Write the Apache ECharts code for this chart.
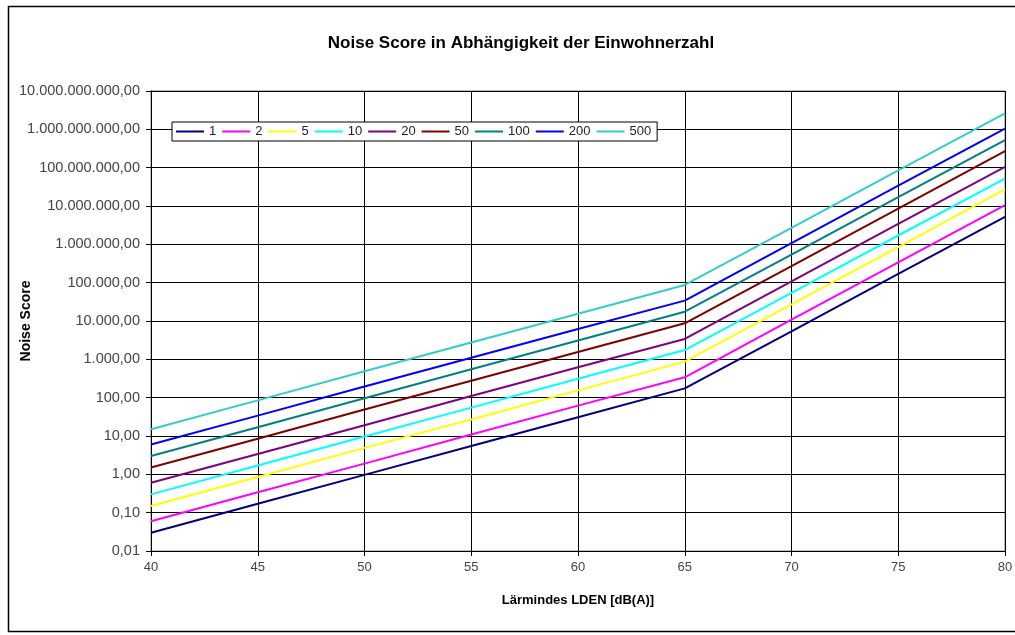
<!DOCTYPE html>
<html>
<head>
<meta charset="utf-8">
<script src="https://cdn.jsdelivr.net/npm/echarts@6/dist/echarts.min.js"></script>
<style>
  html, body { margin: 0; padding: 0; background: #fff; }
  #chart { width: 1015px; height: 635px; }
</style>
</head>
<body>
<div id="chart"></div>
<script>
// Lärmindex LDEN [dB(A)]
const categories = [40, 45, 50, 55, 60, 65, 70, 75, 80]
const seriesNames = ['1', '2', '5', '10', '20', '50', '100', '200', '500']
const s1 = [0.03, 0.17, 0.97, 5.5, 31, 175, 5400, 170000, 5200000]
const s2 = [0.06, 0.34, 1.9, 11, 62, 340, 10800, 340000, 10500000]
const s5 = [0.15, 0.85, 4.9, 27, 155, 870, 27000, 850000, 27000000]
const s10 = [0.3, 1.7, 9.7, 55, 310, 1750, 54000, 1700000, 52000000]
const s20 = [0.6, 3.4, 19, 110, 620, 3400, 108000, 3400000, 105000000]
const s50 = [1.5, 8.5, 49, 275, 1550, 8700, 270000, 8500000, 270000000]
const s100 = [3, 17, 97, 550, 3100, 17500, 540000, 17000000, 520000000]
const s200 = [6, 34, 195, 1100, 6200, 34000, 1080000, 34000000, 1050000000]
const s500 = [15, 85, 490, 2750, 15500, 87000, 2700000, 85000000, 2600000000]
const seriesData = [s1, s2, s5, s10, s20, s50, s100, s200, s500]
const colors = ['#000080', '#ff00ff', '#ffff00', '#00ffff', '#800080', '#800000', '#008080', '#0000ff', '#33cccc']

// deutsches Zahlenformat 1.000,00
function fmtDe(v) {
  const s = (Math.round(v * 100) / 100).toFixed(2)
  const parts = s.split('.')
  return parts[0].replace(/\B(?=(\d{3})+(?!\d))/g, '.') + ',' + parts[1]
}

const chart = echarts.init(document.getElementById('chart'))
const font = 'Liberation Sans, Arial, sans-serif'

const option = {
  backgroundColor: '#fff',
  animation: false,
  textStyle: { fontFamily: font },
  title: {
    text: 'Noise Score in Abhängigkeit der Einwohnerzahl',
    left: 516,
    textAlign: 'center',
    top: 30,
    textStyle: { fontSize: 17, fontWeight: 'bold', color: '#000', fontFamily: font }
  },
  graphic: [{
    type: 'rect',
    shape: { x: 8.5, y: 6.5, width: 1010, height: 625 },
    style: { fill: 'none', stroke: '#000', lineWidth: 1.5 },
    silent: true
  }],
  legend: {
    left: 172,
    top: 122,
    orient: 'horizontal',
    backgroundColor: '#fff',
    borderColor: '#000',
    borderWidth: 1,
    padding: [3, 6, 3, 4],
    icon: 'rect',
    itemWidth: 28,
    itemHeight: 2,
    itemGap: 6,
    textStyle: { fontSize: 13, color: '#222', fontFamily: font },
    data: seriesNames
  },
  grid: {
    left: 151, right: 10, top: 91, bottom: 84,
    outerBoundsMode: 'none',
    containLabel: false,
    show: true, borderColor: '#808080', borderWidth: 1
  },
  xAxis: {
    type: 'value',
    min: 40,
    max: 80,
    interval: 5,
    name: 'Lärmindes LDEN [dB(A)]',
    nameLocation: 'middle',
    nameGap: 43,
    nameMoveOverlap: false,
    nameTextStyle: { fontSize: 13, fontWeight: 'bold', color: '#000', fontFamily: font },
    axisLine: { lineStyle: { color: '#000', width: 1 } },
    axisTick: { show: true, length: 5, inside: false, lineStyle: { color: '#000' } },
    axisLabel: { fontSize: 13, color: '#444', margin: 10, fontFamily: font },
    splitLine: { show: true, lineStyle: { color: '#000', width: 1 } }
  },
  yAxis: {
    type: 'log',
    logBase: 10,
    min: 0.01,
    max: 10000000000,
    interval: 1,
    name: 'Noise Score',
    nameLocation: 'middle',
    nameGap: 118,
    nameMoveOverlap: false,
    nameTextStyle: { fontSize: 14, fontWeight: 'bold', color: '#000', fontFamily: font },
    axisLine: { show: true, lineStyle: { color: '#000', width: 1 } },
    axisTick: { show: true, length: 5, lineStyle: { color: '#000' } },
    axisLabel: { fontSize: 14.5, color: '#444', margin: 11, fontFamily: font, formatter: fmtDe },
    splitLine: { show: true, lineStyle: { color: '#000', width: 1 } }
  },
  series: seriesNames.map((name, i) => ({
    name: name,
    type: 'line',
    symbol: 'none',
    color: colors[i],
    lineStyle: { width: 2, color: colors[i] },
    data: categories.map((x, j) => [x, seriesData[i][j]])
  }))
}
chart.setOption(option)
</script>
</body>
</html>
